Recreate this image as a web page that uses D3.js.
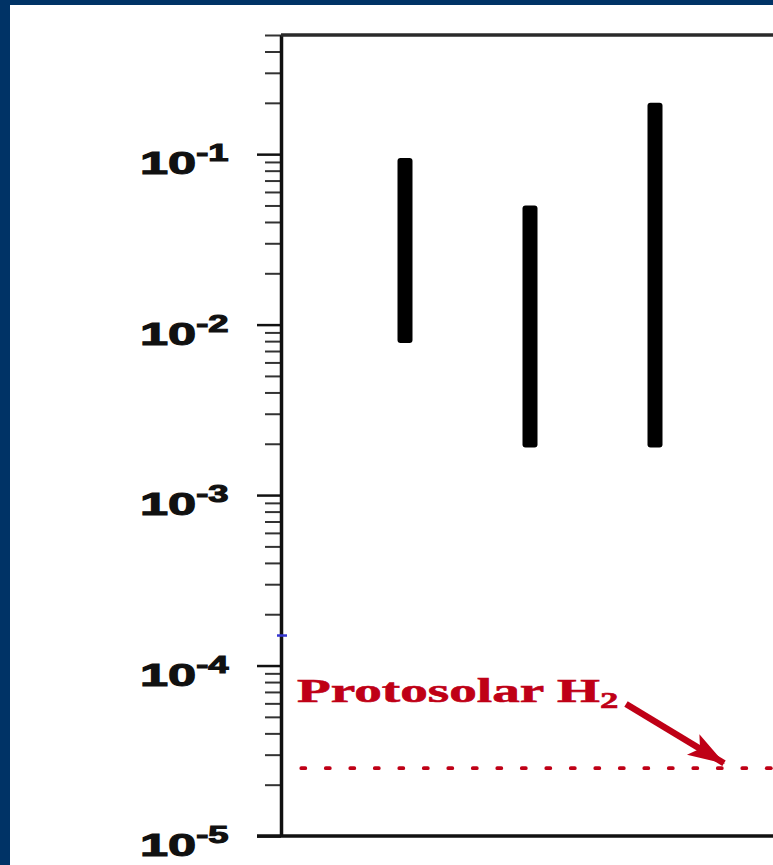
<!DOCTYPE html>
<html lang="en">
<head>
    <meta charset="UTF-8">
    <title>Protosolar H2 comparison</title>
    <script src="https://d3js.org/d3.v7.min.js"></script>
    <style>
        body {
            margin: 0;
            background: #003366;
            overflow: hidden;
        }
        .lab {
            font-family: "Liberation Sans", Arial, sans-serif;
            font-weight: bold;
            fill: #111;
            stroke: #111;
            stroke-width: 1.1;
        }
    </style>
</head>
<body>
    <div id="chart"></div>
    <script>
        // values
        const sources = ["S1", "S2", "S3"];
        const lowValues = [0.0078, 0.0019, 0.0019];
        const highValues = [0.095, 0.05, 0.2];
        const majorTicks = [1e-5, 1e-4, 1e-3, 1e-2, 1e-1];
        const protosolarValue = 2.5e-5;
        const markerValue = 1.5e-4;

        const W = 773, H = 865;
        const axisX = 281;

        const svg = d3.select("#chart")
            .append("svg")
            .attr("width", W)
            .attr("height", H);

        // navy frame and white panel
        svg.append("rect").attr("width", W).attr("height", H).attr("fill", "#003366");
        svg.append("rect").attr("x", 10).attr("y", 5)
            .attr("width", W - 10).attr("height", H - 5).attr("fill", "#fff");

        const y = d3.scaleLog()
            .domain([1e-5, 0.5])
            .range([836, 35]);

        const x = d3.scalePoint()
            .domain(sources)
            .range([280, 780])
            .padding(1);

        const isMajor = v => majorTicks.some(m => Math.abs(v / m - 1) < 1e-6);
        const minorTicks = y.ticks().filter(v => !isMajor(v));

        // minor ticks
        const minorAxis = svg.append("g")
            .attr("transform", `translate(${axisX},0)`)
            .call(d3.axisLeft(y).tickValues(minorTicks).tickSize(16).tickSizeOuter(0).tickFormat(""));
        minorAxis.select(".domain").remove();
        minorAxis.selectAll(".tick line").attr("stroke", "#333").attr("stroke-width", 2);

        // major ticks + axis line
        const majorAxis = svg.append("g")
            .attr("transform", `translate(${axisX},0)`)
            .call(d3.axisLeft(y).tickValues(majorTicks).tickSize(24).tickSizeOuter(0).tickFormat(""));
        majorAxis.select(".domain").attr("stroke", "#111").attr("stroke-width", 3.5);
        majorAxis.selectAll(".tick line").attr("stroke", "#111").attr("stroke-width", 2.5);

        // top and bottom frame lines
        svg.append("line")
            .attr("x1", axisX).attr("x2", W)
            .attr("y1", y(0.5)).attr("y2", y(0.5))
            .attr("stroke", "#2a2a2a").attr("stroke-width", 3.5);
        svg.append("line")
            .attr("x1", axisX - 24).attr("x2", W)
            .attr("y1", y(1e-5)).attr("y2", y(1e-5))
            .attr("stroke", "#111").attr("stroke-width", 3.5);

        // 10^n labels (picture is stretched horizontally)
        const labs = svg.selectAll("g.lab")
            .data(majorTicks)
            .join("g")
            .attr("class", "lab")
            .attr("transform", d => `translate(140,${y(d)}) scale(1.58,1)`);
        labs.append("text")
            .attr("y", 20)
            .attr("font-size", 32)
            .text("10")
            .append("tspan")
            .attr("dy", -13)
            .attr("font-size", 23)
            .text(d => Math.round(Math.log10(d)));

        // range bars
        const bw = 15;
        svg.selectAll("rect.bar")
            .data(sources)
            .join("rect")
            .attr("class", "bar")
            .attr("x", d => x(d) - bw / 2)
            .attr("width", bw)
            .attr("y", (d, i) => y(highValues[i]))
            .attr("height", (d, i) => y(lowValues[i]) - y(highValues[i]))
            .attr("rx", 3)
            .attr("fill", "#000");

        // small blue mark on the axis
        svg.append("line")
            .attr("x1", axisX - 4).attr("x2", axisX + 6)
            .attr("y1", y(markerValue)).attr("y2", y(markerValue))
            .attr("stroke", "#3535d0").attr("stroke-width", 2.5);

        // protosolar H2 level
        const red = "#bf0016";
        svg.append("line")
            .attr("x1", axisX + 2).attr("x2", W)
            .attr("y1", y(protosolarValue)).attr("y2", y(protosolarValue))
            .attr("stroke", red)
            .attr("stroke-width", 3.8)
            .attr("stroke-linecap", "round")
            .attr("stroke-dasharray", "4 20.5")
            .attr("stroke-dashoffset", 6.2);

        const note = svg.append("g")
            .attr("transform", "translate(297,702) scale(1.6,1)")
            .append("text")
            .attr("font-family", "'Liberation Serif', 'Times New Roman', serif")
            .attr("font-weight", "bold")
            .attr("font-size", 34.5)
            .attr("fill", red)
            .attr("stroke", red)
            .attr("stroke-width", 0.6)
            .text("Protosolar H");
        note.append("tspan")
            .attr("dy", 6)
            .attr("font-size", 23)
            .text("2");

        svg.append("defs").append("marker")
            .attr("id", "head")
            .attr("markerUnits", "userSpaceOnUse")
            .attr("viewBox", "0 -14 38 28")
            .attr("refX", 36).attr("refY", 0)
            .attr("markerWidth", 38).attr("markerHeight", 28)
            .attr("orient", "auto")
            .append("path")
            .attr("d", "M0,-12 L37,0 L0,12 L8,0 Z")
            .attr("fill", red);

        svg.append("line")
            .attr("x1", 626).attr("y1", 704)
            .attr("x2", 724).attr("y2", y(protosolarValue) - 5)
            .attr("stroke", red)
            .attr("stroke-width", 6.5)
            .attr("marker-end", "url(#head)");
    </script>
</body>
</html>
